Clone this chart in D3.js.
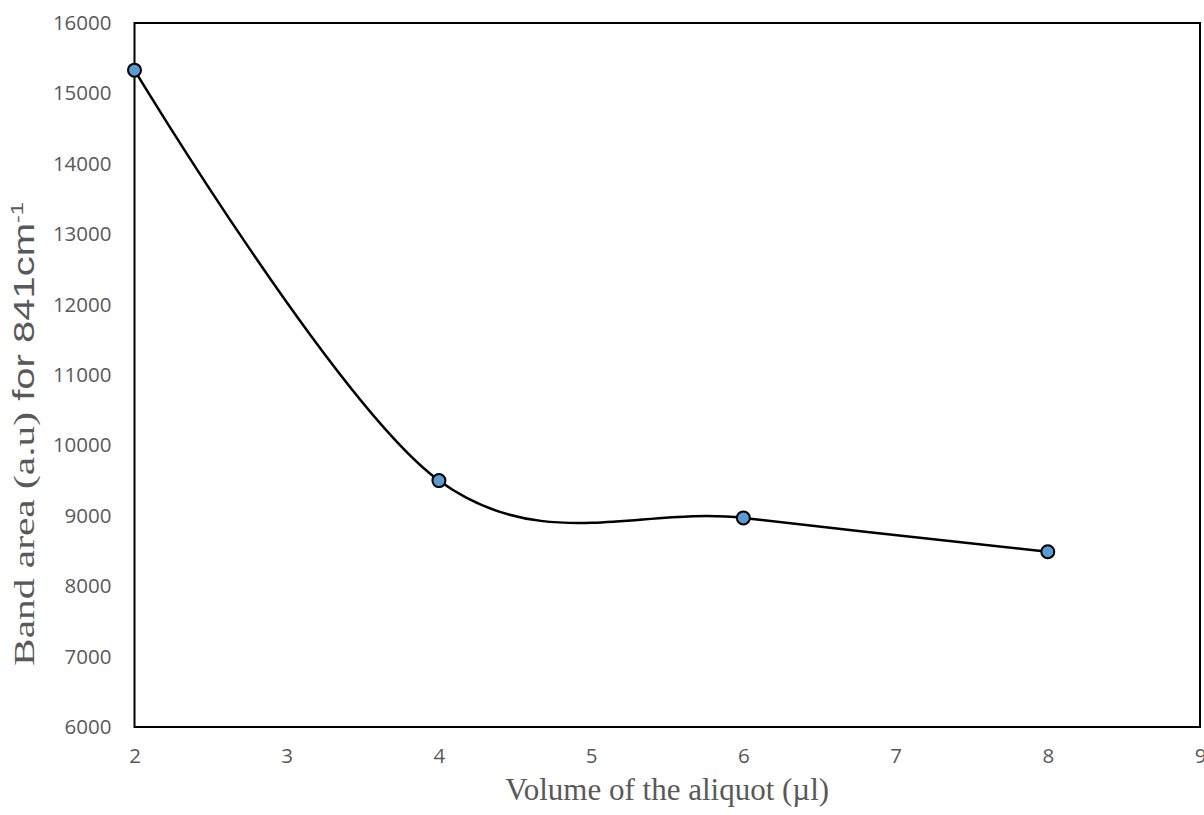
<!DOCTYPE html>
<html>
<head>
<meta charset="utf-8">
<script src="https://cdn.jsdelivr.net/npm/d3@7"></script>
<style>
  html, body { margin: 0; padding: 0; background: #fff; overflow: hidden; }
  svg { display: block; }
</style>
</head>
<body>
<svg id="chart" width="1204" height="815"></svg>
<script>
// Aliquot volume (µl) and measured band area (a.u.)
const volumes = [2, 4, 6, 8];
const bandArea = [15330, 9500, 8970, 8490];
const xTicks = [2, 3, 4, 5, 6, 7, 8, 9];
const yTicks = [6000, 7000, 8000, 9000, 10000, 11000, 12000, 13000, 14000, 15000, 16000];

const svg = d3.select("#chart");
const plot = { left: 134.5, right: 1200, top: 23, bottom: 727 };

const x = d3.scaleLinear().domain([2, 9]).range([plot.left, plot.right]);
const y = d3.scaleLinear().domain([6000, 16000]).range([plot.bottom, plot.top]);

const tickFont = "'Open Sans', 'Liberation Sans', sans-serif";
const grey = "#595959";

// Y axis labels
const yAxis = d3.axisLeft(y).tickValues(yTicks).tickSize(0).tickPadding(23).tickFormat(d3.format("d"));
const gy = svg.append("g").attr("transform", `translate(${plot.left},0)`).call(yAxis);
gy.select(".domain").remove();
gy.selectAll("text").attr("fill", grey).style("font-family", tickFont).style("font-size", "20.5px");

// X axis labels
const xAxis = d3.axisBottom(x).tickValues(xTicks).tickSize(0).tickPadding(21).tickFormat(d3.format("d"));
const gx = svg.append("g").attr("transform", `translate(0,${plot.bottom})`).call(xAxis);
gx.select(".domain").remove();
gx.selectAll("text").attr("fill", grey).style("font-family", tickFont).style("font-size", "20.5px");

// Plot frame
svg.append("rect")
  .attr("x", plot.left).attr("y", plot.top)
  .attr("width", plot.right - plot.left).attr("height", plot.bottom - plot.top)
  .attr("fill", "none").attr("stroke", "#000").attr("stroke-width", 2);

// Smoothed series line
const pts = volumes.map((v, i) => [v, bandArea[i]]);
const line = d3.line()
  .x(d => x(d[0])).y(d => y(d[1]))
  .curve(d3.curveCardinal.tension(0));
svg.append("path")
  .datum(pts)
  .attr("d", line)
  .attr("fill", "none").attr("stroke", "#000").attr("stroke-width", 2.5);

// Markers
svg.selectAll("circle.pt")
  .data(pts)
  .join("circle")
  .attr("class", "pt")
  .attr("cx", d => x(d[0])).attr("cy", d => y(d[1]))
  .attr("r", 6.5)
  .attr("fill", "#5B9BD5").attr("stroke", "#000").attr("stroke-width", 2);

// X axis title
svg.append("text")
  .attr("x", (plot.left + plot.right) / 2).attr("y", 800)
  .attr("text-anchor", "middle")
  .attr("fill", grey)
  .style("font-family", "'Liberation Serif', 'Times New Roman', serif")
  .style("font-size", "31px")
  .text("Volume of the aliquot (µl)");

// Y axis title (stretched along its length)
const yt = svg.append("text")
  .attr("transform", "translate(34,434) rotate(-90) scale(1.38,1)")
  .attr("text-anchor", "middle")
  .attr("fill", grey)
  .style("font-size", "29px");
yt.append("tspan")
  .style("font-family", "'Liberation Serif', 'Times New Roman', serif")
  .style("font-size", "30px")
  .text("Band area (a.u)");
yt.append("tspan")
  .style("font-family", "'Liberation Sans', Arial, sans-serif")
  .text(" for 841cm");
yt.append("tspan")
  .style("font-family", "'Liberation Sans', Arial, sans-serif")
  .style("font-size", "17px")
  .attr("dy", "-11")
  .text("-1");
</script>
</body>
</html>
